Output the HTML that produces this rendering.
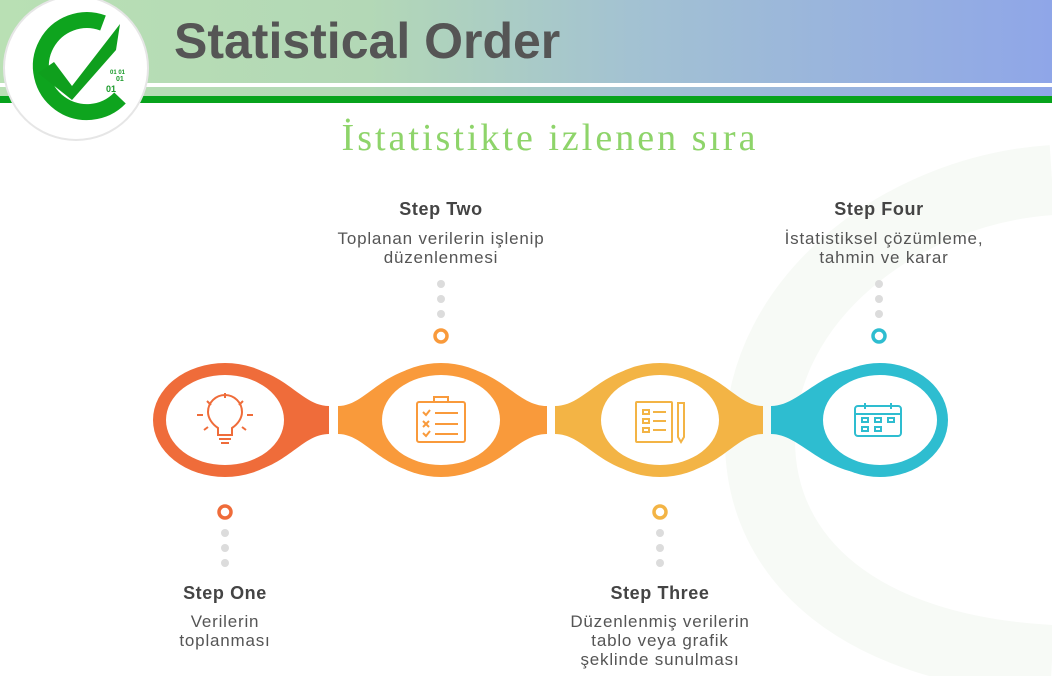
<!DOCTYPE html>
<html><head><meta charset="utf-8"><style>
html,body{margin:0;padding:0;width:1052px;height:676px;overflow:hidden;background:#fff}
svg text{font-family:"Liberation Sans","DejaVu Sans",sans-serif}
</style></head><body>
<svg width="1052" height="676" viewBox="0 0 1052 676" xmlns="http://www.w3.org/2000/svg">
<defs>
<linearGradient id="ban" x1="0" x2="1" y1="0" y2="0">
<stop offset="0" stop-color="#b9e0b4"/><stop offset="0.35" stop-color="#b3d8b6"/><stop offset="0.6" stop-color="#a3c2d2"/><stop offset="1" stop-color="#8fa6e8"/>
</linearGradient>
</defs>
<rect x="0" y="0" width="1052" height="676" fill="#fff"/>
<!-- faint watermark -->
<path d="M1052 180 C900 190 760 300 760 440 C760 560 860 650 1052 660" fill="none" stroke="#f7faf6" stroke-width="70"/>
<!-- banner -->
<rect x="0" y="0" width="1052" height="83" fill="url(#ban)"/>
<rect x="0" y="83" width="1052" height="4" fill="#fff"/>
<rect x="0" y="87" width="1052" height="9" fill="url(#ban)"/>
<rect x="0" y="96" width="1052" height="7" fill="#07a31c"/>
<!-- logo -->
<circle cx="76" cy="68" r="72" fill="#fff" stroke="#e6e6e6" stroke-width="2"/>
<path d="M103 23 A46 46 0 1 0 120 98" fill="none" stroke="#0ea41e" stroke-width="16"/>
<path d="M38 73 L54 62 L72 86 L120 24 L116 50 L72 100 Z" fill="#0f9f1d"/>
<text x="110" y="74" font-size="6" fill="#1a9a2a" font-weight="bold">01  01</text>
<text x="116" y="81" font-size="7" fill="#1a9a2a" font-weight="bold">01</text>
<text x="106" y="92" font-size="9" fill="#1a9a2a" font-weight="bold">01</text>
<text x="174" y="58" font-size="50" font-weight="bold" fill="#555">Statistical Order</text>
<text x="550" y="150" text-anchor="middle" font-size="38" fill="#8ed46a" style="font-family:'Liberation Serif',serif;letter-spacing:3px">İstatistikte izlenen sıra</text>

<!-- nodes -->
<g>
<ellipse cx="225" cy="420" rx="72" ry="57" fill="#ef6c3a"/>
<path d="M235 366 C285 368 300 406 329 406 L329 434 C300 434 285 472 235 474 Z" fill="#ef6c3a"/>
<ellipse cx="225" cy="420" rx="59" ry="45" fill="#fff"/>

<ellipse cx="441" cy="420" rx="72" ry="57" fill="#f99a3b"/>
<path d="M431 366 C381 368 366 406 338 406 L338 434 C366 434 381 472 431 474 Z" fill="#f99a3b"/>
<path d="M451 366 C501 368 516 406 547 406 L547 434 C516 434 501 472 451 474 Z" fill="#f99a3b"/>
<ellipse cx="441" cy="420" rx="59" ry="45" fill="#fff"/>

<ellipse cx="660" cy="420" rx="72" ry="57" fill="#f3b445"/>
<path d="M650 366 C600 368 585 406 555 406 L555 434 C585 434 600 472 650 474 Z" fill="#f3b445"/>
<path d="M670 366 C720 368 735 406 763 406 L763 434 C735 434 720 472 670 474 Z" fill="#f3b445"/>
<ellipse cx="660" cy="420" rx="59" ry="45" fill="#fff"/>

<ellipse cx="880" cy="420" rx="68" ry="57" fill="#2ebdd0"/>
<path d="M870 366 C820 368 800 406 771 406 L771 434 C800 434 820 472 870 474 Z" fill="#2ebdd0"/>
<ellipse cx="880" cy="420" rx="57" ry="45" fill="#fff"/>
</g>

<!-- icons -->
<g fill="none" stroke="#ef6c3a" stroke-width="2">
<path d="M218 435 L218 428 C212 424 208 418 208 412 A17 17 0 0 1 242 412 C242 418 238 424 232 428 L232 435 Z"/>
<path d="M219 439 H231 M221 443 H229"/>
<path d="M225 393 V398 M207 401 L211 405 M243 401 L239 405 M197 415 H203 M247 415 H253 M204 430 L208 427 M246 430 L242 427"/>
</g>
<g fill="none" stroke="#f99a3b" stroke-width="2">
<rect x="417" y="402" width="48" height="40" rx="2"/>
<path d="M434 402 V397 H448 V402 Z"/>
<path d="M423 412 L426 415 L430 410 M423 421 L429 427 M429 421 L423 427 M423 433 L426 436 L430 431"/>
<path d="M435 413 H458 M435 424 H458 M435 434 H458"/>
</g>
<g fill="none" stroke="#f3b445" stroke-width="2">
<rect x="636" y="402" width="36" height="40" rx="1"/>
<rect x="643" y="410" width="6" height="4"/><rect x="643" y="419" width="6" height="4"/><rect x="643" y="428" width="6" height="4"/>
<path d="M653 412 H666 M653 421 H666 M653 430 H666"/>
<path d="M678 403 H684 V437 L681 442 L678 437 Z"/>
</g>
<g fill="none" stroke="#2ebdd0" stroke-width="2">
<rect x="855" y="406" width="46" height="30" rx="3"/>
<path d="M855 414 H901 M865 403 V409 M891 403 V409"/>
<rect x="862" y="418" width="6" height="4"/><rect x="875" y="418" width="6" height="4"/><rect x="888" y="418" width="6" height="4"/>
<rect x="862" y="427" width="6" height="4"/><rect x="875" y="427" width="6" height="4"/>
</g>

<!-- dots & rings -->
<g fill="#dcdcdc">
<circle cx="441" cy="284" r="4"/><circle cx="441" cy="299" r="4"/><circle cx="441" cy="314" r="4"/>
<circle cx="879" cy="284" r="4"/><circle cx="879" cy="299" r="4"/><circle cx="879" cy="314" r="4"/>
<circle cx="225" cy="533" r="4"/><circle cx="225" cy="548" r="4"/><circle cx="225" cy="563" r="4"/>
<circle cx="660" cy="533" r="4"/><circle cx="660" cy="548" r="4"/><circle cx="660" cy="563" r="4"/>
</g>
<g fill="none" stroke-width="3.5">
<circle cx="441" cy="336" r="6" stroke="#f99a3b"/>
<circle cx="879" cy="336" r="6" stroke="#2ebdd0"/>
<circle cx="225" cy="512" r="6" stroke="#ef6c3a"/>
<circle cx="660" cy="512" r="6" stroke="#f3b445"/>
</g>

<!-- text -->
<g text-anchor="middle" fill="#444">
<text x="441" y="215" font-size="18" font-weight="bold" letter-spacing="0.6">Step Two</text>
<text x="441" y="244" font-size="17" fill="#555" letter-spacing="0.8">Toplanan verilerin işlenip</text>
<text x="441" y="263" font-size="17" fill="#555" letter-spacing="0.8">düzenlenmesi</text>
<text x="879" y="215" font-size="18" font-weight="bold" letter-spacing="0.6">Step Four</text>
<text x="884" y="244" font-size="17" fill="#555" letter-spacing="0.8">İstatistiksel çözümleme,</text>
<text x="884" y="263" font-size="17" fill="#555" letter-spacing="0.8">tahmin ve karar</text>
<text x="225" y="599" font-size="18" font-weight="bold" letter-spacing="0.6">Step One</text>
<text x="225" y="627" font-size="17" fill="#555" letter-spacing="0.8">Verilerin</text>
<text x="225" y="646" font-size="17" fill="#555" letter-spacing="0.8">toplanması</text>
<text x="660" y="599" font-size="18" font-weight="bold" letter-spacing="0.6">Step Three</text>
<text x="660" y="627" font-size="17" fill="#555" letter-spacing="0.8">Düzenlenmiş verilerin</text>
<text x="660" y="646" font-size="17" fill="#555" letter-spacing="0.8">tablo veya grafik</text>
<text x="660" y="665" font-size="17" fill="#555" letter-spacing="0.8">şeklinde sunulması</text>
</g>
</svg>
</body></html>
